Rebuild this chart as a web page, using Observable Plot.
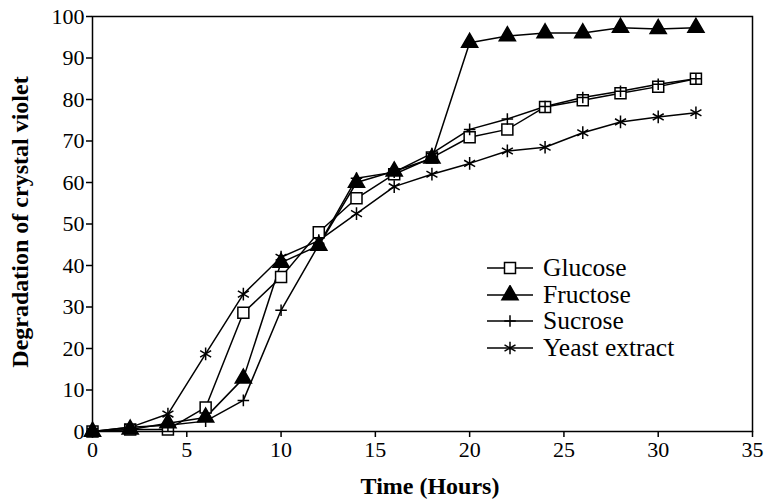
<!DOCTYPE html>
<html><head><meta charset="utf-8">
<script src="https://cdn.jsdelivr.net/npm/d3@7"></script>
<script src="https://cdn.jsdelivr.net/npm/@observablehq/plot@0.6"></script>
<style>
body{margin:0;background:#fff;}
#wrap{position:relative;width:768px;height:500px;font-family:"Liberation Serif",serif;color:#000;}
#wrap svg text{font-family:"Liberation Serif",serif !important;}
.ytitle{position:absolute;left:20px;top:222px;transform:translate(-50%,-50%) rotate(-90deg);font-weight:bold;font-size:24px;white-space:nowrap;}
.xtitle{position:absolute;left:430px;top:486px;transform:translate(-50%,-50%);font-weight:bold;font-size:24px;white-space:nowrap;}
#legend{position:absolute;left:486px;top:255px;font-size:25.5px;}
#legend div{display:flex;align-items:center;height:26.5px;}
#legend svg{margin-right:9px;}
</style></head><body><div id="wrap"></div>
<script>
const hours = [0,2,4,6,8,10,12,14,16,18,20,22,24,26,28,30,32];
const seriesNames = ["Glucose","Fructose","Sucrose","Yeast extract"];
const glucose = [0,0.5,0.5,5.8,28.6,37.2,48,56.2,62,66,70.9,72.8,78.2,79.8,81.5,83.1,85];
const fructose = [0,0.5,2,3.4,12.8,40.7,44.8,60,62.7,65.8,93.7,95.3,96,96,97.3,97,97.3];
const sucrose = [0,1,1.5,2.5,7.5,29.2,45,61,62.5,67,72.8,75.3,78.3,80.5,82,83.7,85];
const yeast = [0,1,4.2,18.7,33.1,42,46,52.5,59,62,64.6,67.6,68.5,72,74.6,75.8,76.8];
const xTicks = [0,5,10,15,20,25,30,35];
const yTicks = [0,10,20,30,40,50,60,70,80,90,100];
const symbols = ["square2","triangle","plus","asterisk"];
const radii = [7,6,3.8,6];

const values = [glucose, fructose, sucrose, yeast];
const data = seriesNames.flatMap((s, i) => hours.map((t, j) => ({series: s, t, v: values[i][j]})));

const fillFor = (sym) => sym === "triangle" ? "black" : (sym === "square2" ? "white" : "none");

const dotMarks = seriesNames.map((s, i) => Plot.dot(data.filter(d => d.series === s), {
  x: "t", y: "v", symbol: () => symbols[i], r: radii[i],
  fill: fillFor(symbols[i]), stroke: "black", strokeWidth: 1.5
}));

const chart = Plot.plot({
  width: 768, height: 500,
  marginLeft: 92, marginRight: 16, marginTop: 16, marginBottom: 69,
  style: {fontFamily: '"Liberation Serif", serif', fontSize: "22px", background: "white", color: "black"},
  x: {domain: [0, 35]},
  y: {domain: [0, 100]},
  marks: [
    Plot.axisX({ticks: xTicks, tickSize: 6, tickPadding: 4, label: null, strokeWidth: 1.5}),
    Plot.axisY({ticks: yTicks, tickSize: 6, tickPadding: 2, label: null, strokeWidth: 1.5}),
    Plot.line(data, {x: "t", y: "v", z: "series", stroke: "black", strokeWidth: 1.5}),
    ...dotMarks,
    Plot.frame({stroke: "black", strokeWidth: 1.5})
  ]
});

const wrap = document.getElementById("wrap");
wrap.appendChild(chart);

const yt = document.createElement("div"); yt.className = "ytitle"; yt.textContent = "Degradation of crystal violet"; wrap.appendChild(yt);
const xt = document.createElement("div"); xt.className = "xtitle"; xt.textContent = "Time (Hours)"; wrap.appendChild(xt);

const symMap = {square2: d3.symbolSquare2, triangle: d3.symbolTriangle, plus: d3.symbolPlus, asterisk: d3.symbolAsterisk};
const legend = document.createElement("div"); legend.id = "legend";
seriesNames.forEach((s, i) => {
  const row = document.createElement("div");
  const svg = d3.create("svg").attr("width", 48).attr("height", 20);
  svg.append("line").attr("x1", 1).attr("x2", 47).attr("y1", 10).attr("y2", 10).attr("stroke", "black").attr("stroke-width", 1.5);
  const size = Math.PI * radii[i] * radii[i];
  svg.append("path").attr("transform", "translate(24,10)")
    .attr("d", d3.symbol(symMap[symbols[i]], size)())
    .attr("fill", fillFor(symbols[i]))
    .attr("stroke", "black").attr("stroke-width", 1.5);
  row.appendChild(svg.node());
  const span = document.createElement("span"); span.textContent = s; row.appendChild(span);
  legend.appendChild(row);
});
wrap.appendChild(legend);
</script>
</body></html>
